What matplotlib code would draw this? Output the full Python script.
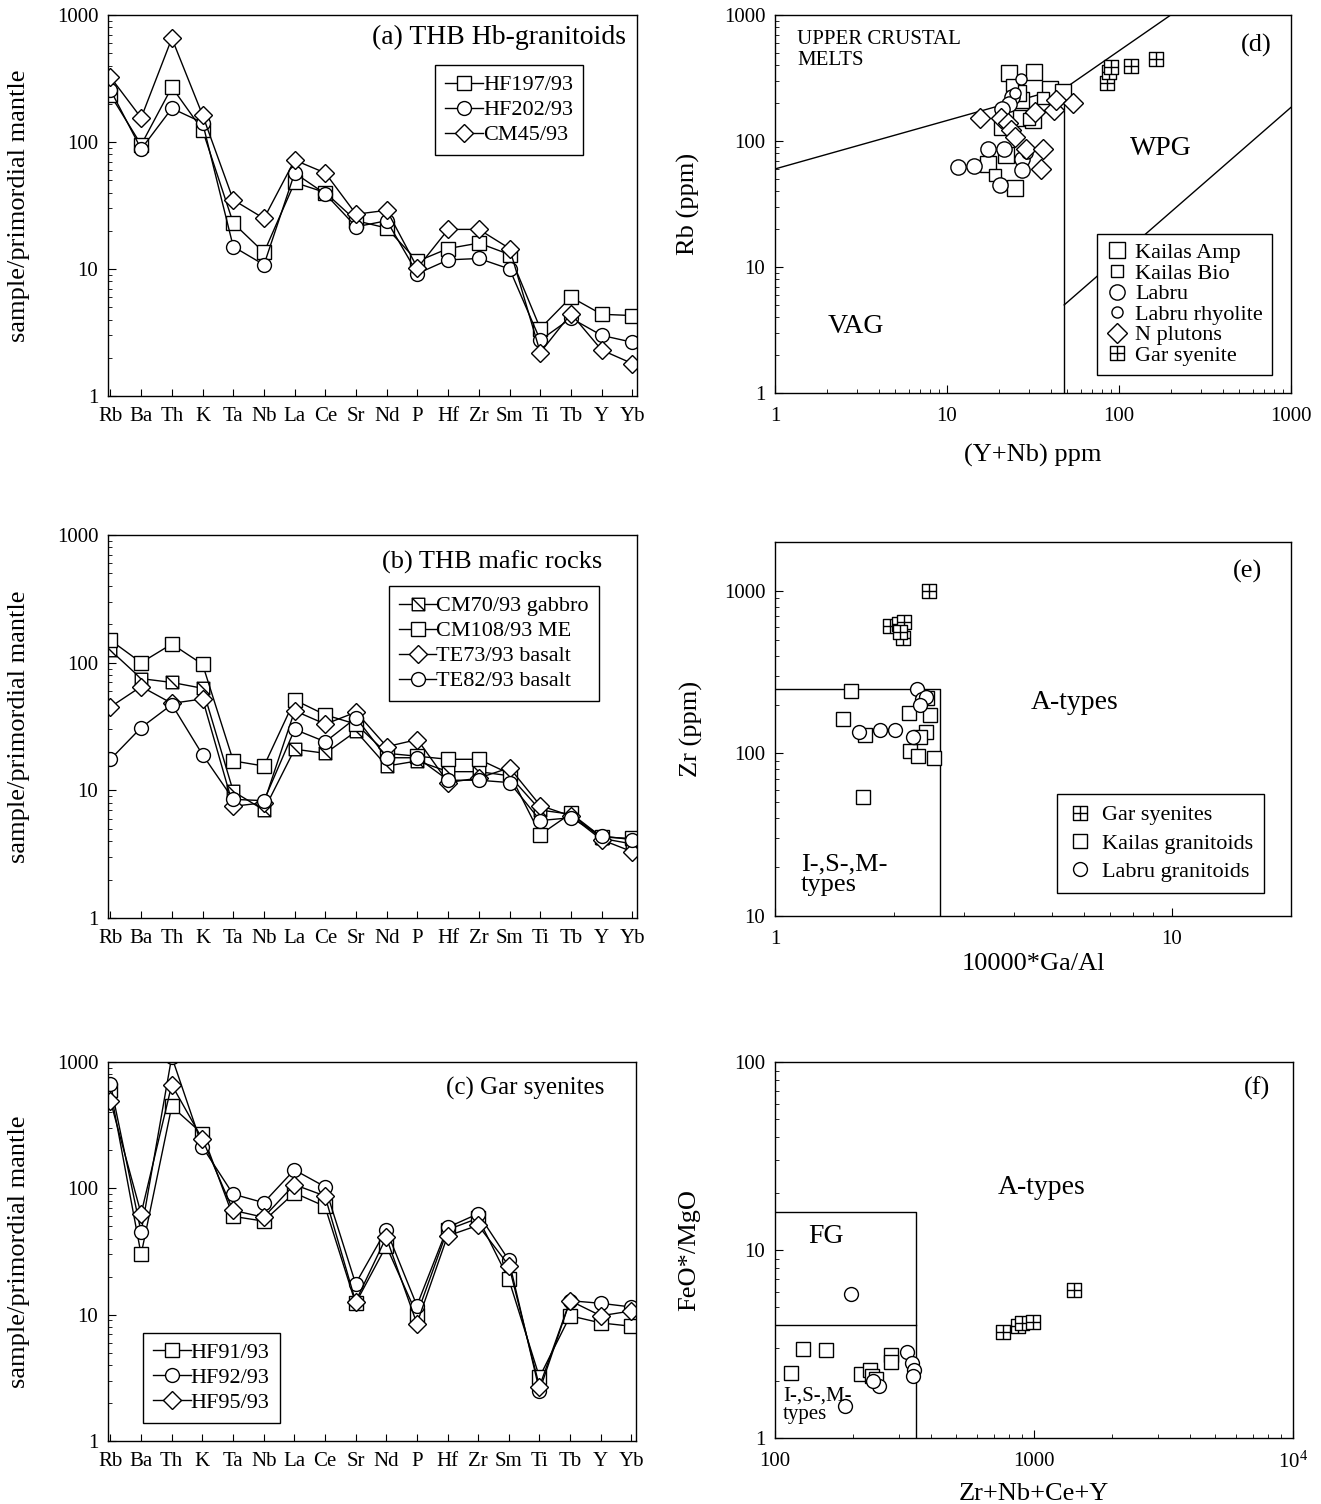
import numpy as np
import matplotlib
matplotlib.use('Agg')
import matplotlib.pyplot as plt
from matplotlib.path import Path
from matplotlib.ticker import LogLocator, NullFormatter, FixedLocator, FixedFormatter

plt.rcParams['font.family'] = ['Liberation Serif', 'DejaVu Serif']
plt.rcParams['mathtext.fontset'] = 'stix'

# ---------------- data ----------------
elements = ['Rb', 'Ba', 'Th', 'K', 'Ta', 'Nb', 'La', 'Ce', 'Sr', 'Nd', 'P',
            'Hf', 'Zr', 'Sm', 'Ti', 'Tb', 'Y', 'Yb']

# (a) THB Hb-granitoids
a_HF197 = [235, 95, 270, 124, 23, 13.5, 48, 40, 24, 21, 11.5, 14.5, 16, 13, 3.4, 6.0, 4.4, 4.3]
a_HF202 = [257, 88, 184, 142, 15, 10.8, 57, 39, 21.5, 24, 9.2, 11.8, 12.1, 10, 2.75, 4.1, 3.0, 2.65]
a_CM45 = [324, 155, 655, 163, 35, 25, 72, 57, 27, 29, 10.2, 20.5, 20.5, 14.5, 2.2, 4.45, 2.3, 1.8]

# (b) THB mafic rocks
b_CM70 = [125, 75, 70, 63, 9.8, 7.0, 21, 19.5, 29, 15.5, 17, 14, 14, 13, 7.0, 6.5, 4.2, 3.8]
b_CM108 = [150, 100, 140, 97, 17, 15.5, 51, 39, 33, 19.5, 18.5, 17.5, 17.5, 13.5, 4.5, 6.6, 4.3, 4.2]
b_TE73 = [45, 65, 48, 52, 7.5, 8.0, 42, 33, 41, 22, 25, 11.5, 12.5, 15, 7.6, 6.3, 4.1, 3.3]
b_TE82 = [17.5, 31, 47, 19, 8.5, 8.3, 30, 24, 37, 18, 18, 12, 12, 11.5, 5.8, 6.1, 4.4, 4.1]

# (c) Gar syenites
c_HF91 = [600, 30, 445, 270, 60, 55, 92, 72, 12.3, 35, 10, 47, 58, 19, 3.2, 9.8, 8.6, 8.1]
c_HF92 = [670, 45, 1100, 213, 90, 77, 140, 103, 17.6, 47, 11.8, 49, 63, 27, 2.5, 12.9, 12.3, 11.5]
c_HF95 = [490, 63, 660, 245, 67, 59, 107, 87, 12.7, 41, 8.5, 42, 51, 24.5, 2.7, 12.9, 9.8, 10.7]

# (d) Rb vs Y+Nb
d_kamp_x = [23, 32, 39.5, 47, 27, 31.5, 17.3, 25, 21, 27, 22, 26]
d_kamp_y = [348, 355, 257, 246, 151, 146, 66, 42, 130, 211, 78, 240]
d_kbio_x = [19, 24, 30, 21, 36]
d_kbio_y = [54, 280, 150, 170, 220]
d_lab_x = [11.6, 14.4, 17.3, 21.4, 20.3, 27.3, 27.3, 24, 23, 21]
d_lab_y = [62.5, 63.5, 86, 86, 44.7, 72, 59, 224, 198, 180]
d_labr_x = [27, 25, 29]
d_labr_y = [310, 240, 80]
d_npl_x = [15.5, 20.5, 22.5, 23.7, 32.4, 41.8, 43, 54, 28.8, 36, 35, 25]
d_npl_y = [152, 152, 138, 122, 171, 176, 211, 199, 87, 86, 59.6, 108]
d_gar_x = [85, 88, 90, 118, 165]
d_gar_y = [290, 350, 385, 395, 450]
d_upper_x = [1, 50, 200]
d_upper_y = [60, 270, 1000]
d_vert_x = [48, 48]
d_vert_y = [1, 265]
d_org_x = [48, 1000]
d_org_y = [5, 185]

# (e) Zr vs 10000*Ga/Al
e_gar_x = [2.45, 1.95, 2.05, 2.12, 2.1, 2.07]
e_gar_y = [1000, 610, 630, 640, 510, 560]
e_kai_x = [1.556, 1.48, 1.69, 2.18, 2.46, 2.4, 2.19, 2.3, 2.52, 1.67, 2.32, 2.42]
e_kai_y = [241, 162, 129, 178, 173, 136, 104, 96, 94, 54, 126, 220]
e_lab_x = [2.28, 2.35, 2.4, 2.32, 1.63, 1.84, 2.01, 2.23]
e_lab_y = [250, 215, 222, 198, 135, 140, 140, 126]
e_box_x = [1, 2.6, 2.6]
e_box_y = [250, 250, 10]

# (f) FeO*/MgO vs Zr+Nb+Ce+Y
f_gar_x = [760, 870, 900, 990, 1430]
f_gar_y = [3.65, 3.95, 4.1, 4.15, 6.1]
f_kai_x = [115, 128, 157, 215, 232, 236, 245, 280, 280]
f_kai_y = [2.21, 2.97, 2.93, 2.2, 2.3, 2.15, 2.05, 2.77, 2.55]
f_lab_x = [197, 323, 338, 344, 340, 252, 239, 186]
f_lab_y = [5.84, 2.85, 2.5, 2.3, 2.15, 1.88, 2.0, 1.48]
f_fg_x = [100, 350, 350]
f_fg_y = [16, 16, 1]
f_otg_x = [100, 350]
f_otg_y = [4, 4]

# ---------------- markers ----------------
M, L, C = Path.MOVETO, Path.LINETO, Path.CLOSEPOLY
sq_diag = Path([(-1, -1), (1, -1), (1, 1), (-1, 1), (-1, -1), (-1, 1), (1, -1)],
               [M, L, L, L, C, M, L])
sq_plus = Path([(-1, -1), (1, -1), (1, 1), (-1, 1), (-1, -1), (-1, 0), (1, 0), (0, -1), (0, 1)],
               [M, L, L, L, C, M, L, M, L])

W, H = 1321, 1504
fig = plt.figure(figsize=(W / 100, H / 100), dpi=100)


def rect(l, t, r, b):
    return [l / W, 1 - b / H, (r - l) / W, (b - t) / H]


TICK = 15
LAB = 19
TXT = 19
LEG = 16


def style_log_axis(ax):
    ax.tick_params(axis='both', which='both', direction='in', labelsize=TICK,
                   top=False, right=False)
    ax.tick_params(axis='both', which='major', length=6, width=0.8, pad=7)
    ax.tick_params(axis='both', which='minor', length=3, width=0.6)
    for s in ax.spines.values():
        s.set_linewidth(1.0)


def spider(ax, series, names, markers, ms):
    x = np.arange(len(elements))
    for vals, nm, mk, m in zip(series, names, markers, ms):
        ax.plot(x, vals, color='black', lw=1.0, marker=mk, markersize=m,
                markerfacecolor='white', markeredgecolor='black', markeredgewidth=1.0,
                label=nm)
    ax.set_yscale('log')
    ax.set_ylim(1, 1000)
    ax.set_xlim(-0.08, 17.15)
    ax.set_xticks(x)
    ax.set_xticklabels(elements)
    ax.yaxis.set_major_locator(FixedLocator([1, 10, 100, 1000]))
    ax.yaxis.set_major_formatter(FixedFormatter(['1', '10', '100', '1000']))
    ax.yaxis.set_minor_locator(LogLocator(base=10, subs=np.arange(2, 10)))
    ax.yaxis.set_minor_formatter(NullFormatter())
    style_log_axis(ax)
    ax.tick_params(axis='x', which='major', length=5, pad=8)
    ax.set_ylabel('sample/primordial mantle', fontsize=LAB)
    ax.yaxis.set_label_coords(-0.147, 0.5)


def legend(ax, loc, anchor, **kw):
    lg = ax.legend(loc=loc, bbox_to_anchor=anchor, fontsize=LEG, frameon=True,
                   fancybox=False, edgecolor='black', framealpha=1, borderaxespad=0,
                   borderpad=0.45, labelspacing=0.2, handletextpad=0.0, **kw)
    lg.get_frame().set_linewidth(1.0)
    return lg


# (a)
ax = fig.add_axes(rect(108, 15, 637, 396))
spider(ax, [a_HF197, a_HF202, a_CM45], ['HF197/93', 'HF202/93', 'CM45/93'],
       ['s', 'o', 'D'], [10, 10, 9])
ax.text(0.979, 0.94, '(a) THB Hb-granitoids', transform=ax.transAxes,
        ha='right', va='center', fontsize=20)
legend(ax, 'upper right', (0.898, 0.869), handlelength=1.7)

# (b)
ax = fig.add_axes(rect(108, 535, 637, 918))
spider(ax, [b_CM70, b_CM108, b_TE73, b_TE82],
       ['CM70/93 gabbro', 'CM108/93 ME', 'TE73/93 basalt', 'TE82/93 basalt'],
       [sq_diag, 's', 'D', 'o'], [9, 10, 9, 10])
ax.text(0.934, 0.93, '(b) THB mafic rocks', transform=ax.transAxes,
        ha='right', va='center', fontsize=19)
legend(ax, 'upper right', (0.928, 0.867), handlelength=1.7)

# (c)
ax = fig.add_axes(rect(108, 1062, 636, 1441))
spider(ax, [c_HF91, c_HF92, c_HF95], ['HF91/93', 'HF92/93', 'HF95/93'],
       ['s', 'o', 'D'], [10, 10, 9])
ax.text(0.94, 0.93, '(c) Gar syenites', transform=ax.transAxes,
        ha='right', va='center', fontsize=18)
legend(ax, 'lower left', (0.066, 0.047), handlelength=1.7)


def scatter_axes(ax):
    ax.set_xscale('log')
    ax.set_yscale('log')
    ax.xaxis.set_minor_locator(LogLocator(base=10, subs=np.arange(2, 10)))
    ax.yaxis.set_minor_locator(LogLocator(base=10, subs=np.arange(2, 10)))
    ax.xaxis.set_minor_formatter(NullFormatter())
    ax.yaxis.set_minor_formatter(NullFormatter())
    style_log_axis(ax)
    ax.tick_params(axis='x', which='major', pad=10)


def pts(ax, x, y, mk, ms, label=None):
    ax.plot(x, y, linestyle='none', marker=mk, markersize=ms, markerfacecolor='white',
            markeredgecolor='black', markeredgewidth=1.0, label=label, zorder=3)


# (d)
ax = fig.add_axes(rect(775, 15, 1291, 393))
scatter_axes(ax)
ax.set_xlim(1, 1000)
ax.set_ylim(1, 1000)
ax.xaxis.set_major_locator(FixedLocator([1, 10, 100, 1000]))
ax.xaxis.set_major_formatter(FixedFormatter(['1', '10', '100', '1000']))
ax.yaxis.set_major_locator(FixedLocator([1, 10, 100, 1000]))
ax.yaxis.set_major_formatter(FixedFormatter(['1', '10', '100', '1000']))
ax.plot(d_upper_x, d_upper_y, color='black', lw=1.0, zorder=2)
ax.plot(d_vert_x, d_vert_y, color='black', lw=1.0, zorder=2)
ax.plot(d_org_x, d_org_y, color='black', lw=1.0, zorder=2)
pts(ax, d_kamp_x, d_kamp_y, 's', 11, 'Kailas Amp')
pts(ax, d_kbio_x, d_kbio_y, 's', 8, 'Kailas Bio')
pts(ax, d_lab_x, d_lab_y, 'o', 11, 'Labru')
pts(ax, d_labr_x, d_labr_y, 'o', 8, 'Labru rhyolite')
pts(ax, d_npl_x, d_npl_y, 'D', 10, 'N plutons')
pts(ax, d_gar_x, d_gar_y, sq_plus, 10.5, 'Gar syenite')
ax.set_xlabel('(Y+Nb) ppm', fontsize=LAB)
ax.xaxis.set_label_coords(0.5, -0.135)
ax.set_ylabel('Rb (ppm)', fontsize=LAB)
ax.yaxis.set_label_coords(-0.145, 0.5)
ax.text(0.043, 0.96, 'UPPER CRUSTAL\nMELTS', transform=ax.transAxes, ha='left', va='top',
        fontsize=15, linespacing=1.1)
ax.text(0.962, 0.92, '(d)', transform=ax.transAxes, ha='right', va='center', fontsize=TXT)
ax.text(0.157, 0.177, 'VAG', transform=ax.transAxes, ha='center', va='center', fontsize=20)
ax.text(0.748, 0.648, 'WPG', transform=ax.transAxes, ha='center', va='center', fontsize=20)
lg = ax.legend(loc='lower right', bbox_to_anchor=(0.963, 0.048), fontsize=16, frameon=True,
               fancybox=False, edgecolor='black', framealpha=1, borderpad=0.4,
               borderaxespad=0, labelspacing=0.0, handletextpad=0.3, handlelength=1.0)
lg.get_frame().set_linewidth(1.0)
lg.set_zorder(5)

# (e)
ax = fig.add_axes(rect(775, 542, 1291, 916))
scatter_axes(ax)
ax.set_xlim(1, 20)
ax.set_ylim(10, 2000)
ax.xaxis.set_major_locator(FixedLocator([1, 10]))
ax.xaxis.set_major_formatter(FixedFormatter(['1', '10']))
ax.yaxis.set_major_locator(FixedLocator([10, 100, 1000]))
ax.yaxis.set_major_formatter(FixedFormatter(['10', '100', '1000']))
ax.plot(e_box_x, e_box_y, color='black', lw=1.0, zorder=2)
pts(ax, e_gar_x, e_gar_y, sq_plus, 10.5, 'Gar syenites')
pts(ax, e_kai_x, e_kai_y, 's', 10, 'Kailas granitoids')
pts(ax, e_lab_x, e_lab_y, 'o', 10, 'Labru granitoids')
ax.set_xlabel('10000*Ga/Al', fontsize=LAB)
ax.xaxis.set_label_coords(0.5, -0.1)
ax.set_ylabel('Zr (ppm)', fontsize=LAB)
ax.yaxis.set_label_coords(-0.14, 0.5)
ax.text(0.944, 0.922, '(e)', transform=ax.transAxes, ha='right', va='center', fontsize=TXT)
ax.text(0.581, 0.57, 'A-types', transform=ax.transAxes, ha='center', va='center', fontsize=20)
ax.text(0.05, 0.11, 'I-,S-,M-\ntypes', transform=ax.transAxes, ha='left', va='center',
        fontsize=TXT, linespacing=0.95)
lg = ax.legend(loc='lower right', bbox_to_anchor=(0.948, 0.061), fontsize=16, frameon=True,
               fancybox=False, edgecolor='black', framealpha=1, borderpad=0.5,
               borderaxespad=0, labelspacing=0.35, handletextpad=0.5, handlelength=1.0)
lg.get_frame().set_linewidth(1.0)

# (f)
ax = fig.add_axes(rect(775, 1062, 1293, 1438))
scatter_axes(ax)
ax.set_xlim(100, 10000)
ax.set_ylim(1, 100)
ax.xaxis.set_major_locator(FixedLocator([100, 1000, 10000]))
ax.xaxis.set_major_formatter(FixedFormatter(['100', '1000', '$\\mathregular{10^4}$']))
ax.yaxis.set_major_locator(FixedLocator([1, 10, 100]))
ax.yaxis.set_major_formatter(FixedFormatter(['1', '10', '100']))
ax.plot(f_fg_x, f_fg_y, color='black', lw=1.0, zorder=2)
ax.plot(f_otg_x, f_otg_y, color='black', lw=1.0, zorder=2)
pts(ax, f_gar_x, f_gar_y, sq_plus, 10.5)
pts(ax, f_kai_x, f_kai_y, 's', 10)
pts(ax, f_lab_x, f_lab_y, 'o', 10)
ax.set_xlabel('Zr+Nb+Ce+Y', fontsize=LAB)
ax.xaxis.set_label_coords(0.5, -0.12)
ax.set_ylabel('FeO*/MgO', fontsize=LAB)
ax.yaxis.set_label_coords(-0.145, 0.5)
ax.text(0.956, 0.93, '(f)', transform=ax.transAxes, ha='right', va='center', fontsize=TXT)
ax.text(0.514, 0.665, 'A-types', transform=ax.transAxes, ha='center', va='center', fontsize=20)
ax.text(0.098, 0.535, 'FG', transform=ax.transAxes, ha='center', va='center', fontsize=20)
ax.text(0.015, 0.088, 'I-,S-,M-\ntypes', transform=ax.transAxes, ha='left', va='center',
        fontsize=15, linespacing=0.95)

fig.savefig('out.png', dpi=100, facecolor='white')
